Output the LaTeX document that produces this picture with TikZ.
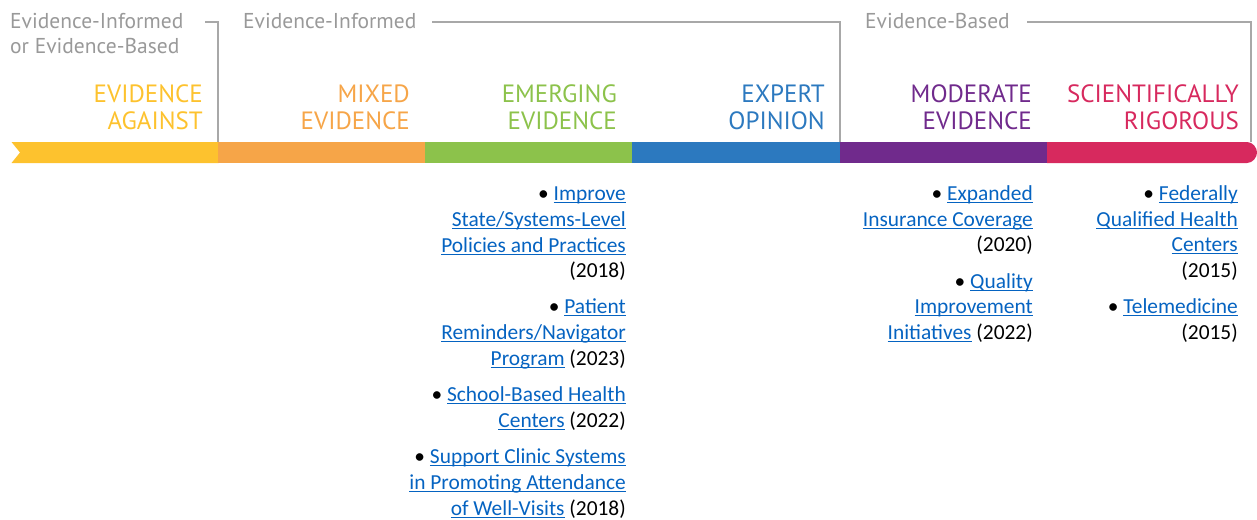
\documentclass[tikz,border=0pt]{standalone}
\usepackage{fontspec}
\setmainfont{Carlito}
\newfontfamily\hdfont{PT Sans}
\definecolor{cyel}{HTML}{FDC22E}
\definecolor{cora}{HTML}{F6A548}
\definecolor{cgrn}{HTML}{8CC24B}
\definecolor{cblu}{HTML}{2C79BF}
\definecolor{cpur}{HTML}{702A8C}
\definecolor{cred}{HTML}{D7295E}
\definecolor{cgry}{HTML}{A8A8A8}
\definecolor{htxt}{HTML}{999999}
\definecolor{linkblue}{HTML}{0563C1}
\newcommand\lnk[1]{{\sbox0{\color{linkblue}#1}\rlap{\color{linkblue}\rule[-3pt]{\wd0}{1.4pt}}\usebox0}}
\tikzset{
  lt/.style={anchor=base east, inner sep=0pt, font=\fontsize{21.4}{25}\selectfont},
  hd/.style={anchor=base west, inner sep=0pt, text=htxt, font=\hdfont\fontsize{21.5}{25}\selectfont},
  cat/.style={anchor=base east, inner sep=0pt, font=\hdfont\fontsize{25}{28}\selectfont},
  brk/.style={draw=cgry, line width=1.5pt},
}
\begin{document}
\begin{tikzpicture}[x=1pt,y=-1pt]
\useasboundingbox (0,0) rectangle (1257,519);
% bar
\fill[cyel] (11.5,142) -- (218.5,142) -- (218.5,163) -- (11.5,163) -- (20,152.5) -- cycle;
\fill[cora] (218,142) rectangle (425.5,163);
\fill[cgrn] (425,142) rectangle (632.5,163);
\fill[cblu] (632,142) rectangle (840.5,163);
\fill[cpur] (840,142) rectangle (1047.5,163);
\fill[cred] (1047,142) -- (1247,142) .. controls (1253,142) and (1257,148) .. (1257,152.5)
  .. controls (1257,157) and (1253,163) .. (1247,163) -- (1047,163) -- cycle;
% header texts
\node[hd] (h1a) at (10,29) {Evidence-Informed};
\node[hd] (h1b) at (10,53.5) {or Evidence-Based};
\node[hd] (h2) at (243,29) {Evidence-Informed};
\node[hd] (h3) at (865,29) {Evidence-Based};
\coordinate (b1s) at (205,22);
\coordinate (b1c) at (218,22);
\coordinate (b1e) at (218,142);
\coordinate (b2s) at (432,22);
\coordinate (b2c) at (840,22);
\coordinate (b2e) at (840,142);
\coordinate (b3s) at (1027,22);
\coordinate (b3c) at (1251,22);
\coordinate (b3e) at (1251,142);
\draw[brk] (b1s) -- (b1c) -- (b1e);
\draw[brk] (b2s) -- (b2c) -- (b2e);
\draw[brk] (b3s) -- (b3c) -- (b3e);
% category labels
\node[cat, text=cyel] (c1a) at (203,102) {EVIDENCE};
\node[cat, text=cyel] (c1b) at (203,129) {AGAINST};
\node[cat, text=cora] (c2a) at (410,102) {MIXED};
\node[cat, text=cora] (c2b) at (410,129) {EVIDENCE};
\node[cat, text=cgrn] (c3a) at (617,102) {EMERGING};
\node[cat, text=cgrn] (c3b) at (617,129) {EVIDENCE};
\node[cat, text=cblu] (c4a) at (825,102) {EXPERT};
\node[cat, text=cblu] (c4b) at (825,129) {OPINION};
\node[cat, text=cpur] (c5a) at (1032,102) {MODERATE};
\node[cat, text=cpur] (c5b) at (1032,129) {EVIDENCE};
\node[cat, text=cred] (c6a) at (1239,102) {SCIENTIFICALLY};
\node[cat, text=cred] (c6b) at (1239,129) {RIGOROUS};
% emerging evidence column
\node[lt] (e1) at (626,200) {• \lnk{Improve}};
\node[lt] (e2) at (626,226) {\lnk{State/Systems-Level}};
\node[lt] (e3) at (626,252) {\lnk{Policies and Practices}};
\node[lt] (e4) at (626,277) {(2018)};
\node[lt] (e5) at (626,313) {• \lnk{Patient}};
\node[lt] (e6) at (626,339) {\lnk{Reminders/Navigator}};
\node[lt] (e7) at (626,365) {\lnk{Program} (2023)};
\node[lt] (e8) at (626,401) {• \lnk{School-Based Health}};
\node[lt] (e9) at (626,427) {\lnk{Centers} (2022)};
\node[lt] (e10) at (626,463) {• \lnk{Support Clinic Systems}};
\node[lt] (e11) at (626,489) {\lnk{in Promoting Attendance}};
\node[lt] (e12) at (626,515) {\lnk{of Well-Visits} (2018)};
% moderate evidence column
\node[lt] (m1) at (1033,200) {• \lnk{Expanded}};
\node[lt] (m2) at (1033,226) {\lnk{Insurance Coverage}};
\node[lt] (m3) at (1033,251) {(2020)};
\node[lt] (m4) at (1033,288) {• \lnk{Quality}};
\node[lt] (m5) at (1033,313) {\lnk{Improvement}};
\node[lt] (m6) at (1033,339) {\lnk{Initiatives} (2022)};
% scientifically rigorous column
\node[lt] (s1) at (1238,200) {• \lnk{Federally}};
\node[lt] (s2) at (1238,226) {\lnk{Qualified Health}};
\node[lt] (s3) at (1238,251) {\lnk{Centers}};
\node[lt] (s4) at (1238,277) {(2015)};
\node[lt] (s5) at (1238,313) {• \lnk{Telemedicine}};
\node[lt] (s6) at (1238,339) {(2015)};
\end{tikzpicture}
\end{document}
